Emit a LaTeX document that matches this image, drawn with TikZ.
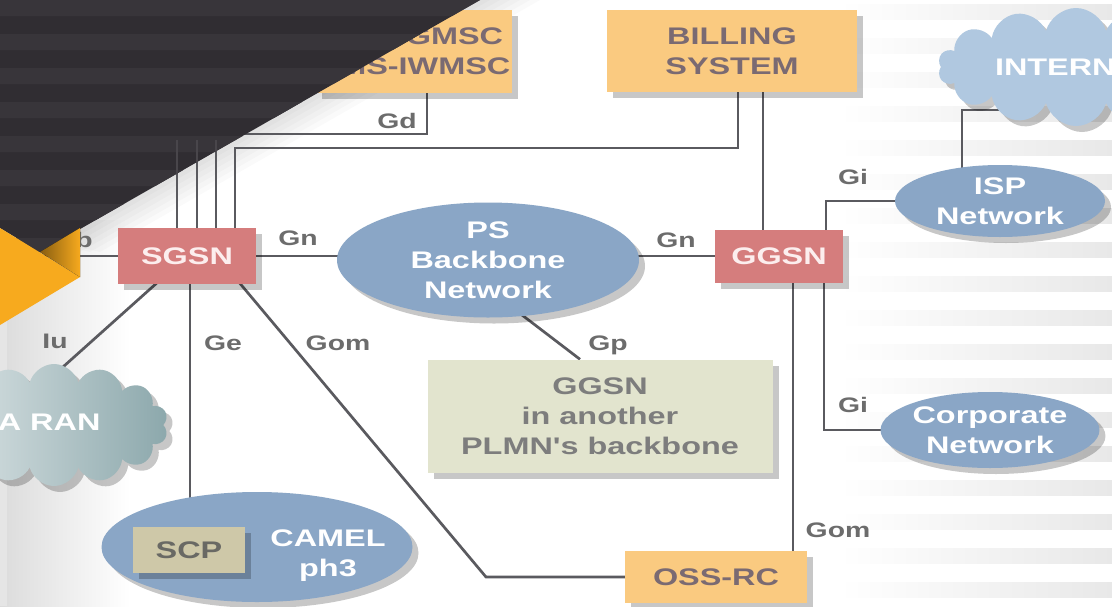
\documentclass[tikz,border=0pt]{standalone}
\usepackage{fontspec}
\newfontfamily\diagfont{Liberation Sans}[FakeStretch=1.35]
\usetikzlibrary{shapes.geometric,shapes.symbols,shadows,backgrounds}
\pgfdeclarelayer{foreground}
\pgfsetlayers{background,main,foreground}

\definecolor{darkband}{RGB}{48,45,50}
\definecolor{slideorange}{RGB}{247,170,30}
\definecolor{boxorange}{RGB}{250,202,128}
\definecolor{boxtext}{RGB}{122,106,114}
\definecolor{gsnred}{RGB}{213,125,125}
\definecolor{gsntext}{RGB}{252,238,238}
\definecolor{netblue}{RGB}{138,166,198}
\definecolor{cloudblue}{RGB}{176,200,224}
\definecolor{rancloud}{RGB}{140,168,172}
\definecolor{plmnfill}{RGB}{226,228,206}
\definecolor{plmntext}{RGB}{125,125,125}
\definecolor{scpfill}{RGB}{206,200,168}
\definecolor{scptext}{RGB}{105,105,100}
\definecolor{wiregray}{RGB}{90,90,95}
\definecolor{lblgray}{RGB}{108,108,108}

\tikzset{
  boxshadow/.style={drop shadow={shadow xshift=6pt, shadow yshift=-6pt, fill=black, opacity=.22}},
  boxfont/.style={font=\diagfont\bfseries\fontsize{24}{30}\selectfont},
  wire/.style={draw=wiregray, line width=2.7pt},
  lbl/.style={text=lblgray, inner sep=0, font=\diagfont\bfseries\fontsize{21}{21}\selectfont},
  orangebox/.style={boxfont, fill=boxorange, text=boxtext, align=center, inner sep=0, boxshadow},
  gsnbox/.style={boxfont, fill=gsnred, text=gsntext, inner sep=0, boxshadow},
  netnode/.style={boxfont, ellipse, fill=netblue, text=white, align=center, inner sep=0, boxshadow},
  cloudnode/.style={boxfont, cloud, cloud puffs=14, cloud ignores aspect, text=white, inner sep=0, boxshadow}
}

\begin{document}
\begin{tikzpicture}[x=1pt, y=-1pt]
\useasboundingbox (0,0) rectangle (1112,606);
\clip (0,0) rectangle (1112,606);

\node[orangebox, minimum width=196pt, minimum height=83pt] (gmsc) at (414,51) {SMS-GMSC\\SMS-IWMSC};
\node[orangebox, minimum width=250pt, minimum height=82pt] (billing) at (732,51) {BILLING\\SYSTEM};
\node[cloudnode, fill=cloudblue, minimum width=276pt, minimum height=118pt] (inet) at (1076,67) {INTERNET};
\node[gsnbox, minimum width=138pt, minimum height=56pt] (sgsn) at (187,256) {SGSN};
\node[gsnbox, minimum width=128pt, minimum height=53pt] (ggsn) at (779,256) {GGSN};
\node[netnode, minimum width=302pt, minimum height=115pt] (ps) at (488,260) {PS\\Backbone\\Network};
\node[netnode, minimum width=210pt, minimum height=72pt] (isp) at (1000,201) {ISP\\Network};
\node[netnode, minimum width=211pt, minimum height=76pt] (corp) at (990,430) {Corporate\\Network};
\node[boxfont, fill=plmnfill, text=plmntext, align=center, inner sep=0, boxshadow,
      minimum width=345pt, minimum height=113pt] (plmn) at (600,416) {GGSN\\in another\\PLMN's backbone};
\node[cloudnode, left color=rancloud!30, right color=rancloud, minimum width=228pt, minimum height=122pt] (ran) at (54,425) {};
\node[boxfont, text=white, anchor=east] (ranname) at (104,422) {WCDMA RAN};
\node[netnode, minimum width=311pt, minimum height=110pt] (camel) at (257,547) {};
\node[boxfont, fill=scpfill, text=scptext, inner sep=0, boxshadow,
      minimum width=112pt, minimum height=46pt] (scp) at (189,550) {SCP};
\node[boxfont, text=white, align=center, inner sep=0] (camelname) at (328,556) {CAMEL\\ph3};
\node[orangebox, minimum width=182pt, minimum height=52pt] (oss) at (716,577) {OSS-RC};

\node[lbl] (gblbl) at (73,240) {Gb};
\node[lbl] (gdlbl) at (397,121) {Gd};
\node[lbl] (gnlbla) at (298,238) {Gn};
\node[lbl] (gnlblb) at (676,240) {Gn};
\node[lbl] (gilbla) at (853,177) {Gi};
\node[lbl] (gilblb) at (853,405) {Gi};
\node[lbl] (iulbl) at (55,341) {Iu};
\node[lbl] (gelbl) at (223,343) {Ge};
\node[lbl] (gomlbla) at (338,343) {Gom};
\node[lbl] (gplbl) at (608,345) {Gp};
\node[lbl] (gomlblb) at (838,530) {Gom};

\coordinate (gbend) at (20,256);
\coordinate (mscend) at (177,112);
\coordinate (hlrend) at (197,124);
\coordinate (inetfoot) at (1010,110);
\coordinate (iuend) at (54,375);
\coordinate (gomcorner) at (486,577);

\begin{scope}[on background layer]
\fill[white] (0,0) rectangle (1112,606);
\foreach \y in {4,38,...,600}
  \fill[left color=white, right color=black!9] (840,\y) rectangle (1112,\y+15);
\fill[left color=black!14, right color=white] (0,220) rectangle (130,606);
\fill[black!10] (0,320) rectangle (7,606);
\foreach \d in {10,20,...,60}
  \fill[black, opacity=.02] (0,0) -- (480+\d,0) -- (40+\d,252) -- (0,228) -- cycle;

\draw[wire] (sgsn.center) -- (gbend);
\draw[wire] (sgsn.center) -- (sgsn.center -| ps.center);
\draw[wire] (ggsn.center) -- (ggsn.center -| ps.center);
\draw[wire] (177,0 |- sgsn.center) -- (mscend);
\draw[wire] (197,0 |- sgsn.center) -- (hlrend);
\draw[wire] (216,0 |- sgsn.center) |- (427,134) -- (427,0 |- gmsc.center);
\draw[wire] (235,0 |- sgsn.center) |- (738,148) -- (738,0 |- billing.center);
\draw[wire] (763,0 |- billing.center) -- (763,0 |- ggsn.center);
\draw[wire] (826,0 |- ggsn.center) |- (isp.center);
\draw[wire] (962,0 |- isp.center) |- (inetfoot);
\draw[wire] (824,0 |- ggsn.center) |- (corp.center);
\draw[wire] (793,0 |- ggsn.center) -- (793,0 |- oss.center);
\draw[wire] (sgsn.center) -- (iuend);
\draw[wire] (190,0 |- sgsn.center) -- (190,0 |- camel.center);
\draw[wire] (217,0 |- sgsn.center) -- (gomcorner) -- (gomcorner -| oss.center);
\draw[wire] (450,0 |- ps.center) -- (580,0 |- plmn.north);
\end{scope}

\begin{pgfonlayer}{foreground}
\fill[darkband] (0,0) -- (480,0) -- (40,252) -- (0,228) -- cycle;
\foreach \y in {0,34,...,250}
  \fill[darkband!96!white] (0,\y) -- (480-\y*1.746,\y) -- (480-\y*1.746-16*1.746,\y+16) -- (0,\y+16) -- cycle;
\begin{scope}
\clip (0,0) -- (480,0) -- (40,252) -- (0,228) -- cycle;
\foreach \lx in {177,197,216,235}
  \draw[wire, draw=darkband!88!white] (\lx,0 |- sgsn.north) -- (\lx,140);
\end{scope}
\fill[slideorange] (0,228) -- (80,277) -- (0,325) -- cycle;
\fill[left color=slideorange!55!black, right color=slideorange] (40,252) -- (80,228) -- (80,277) -- cycle;
\end{pgfonlayer}
\end{tikzpicture}
\end{document}
